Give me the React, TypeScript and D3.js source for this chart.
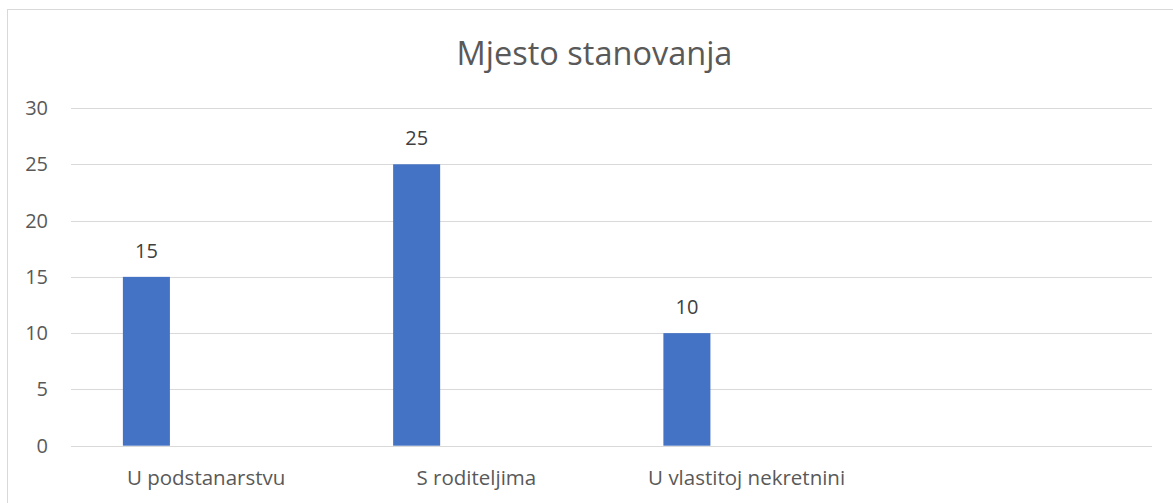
import React, { useEffect, useRef } from "react";
import * as d3 from "d3";

const categories = ["U podstanarstvu", "S roditeljima", "U vlastitoj nekretnini", ""];
const values = [15, 25, 10, null];
const yTicks = [0, 5, 10, 15, 20, 25, 30];
const title = "Mjesto stanovanja";

const W = 1173;
const H = 503;

const App: React.FC = () => {
  const svgRef = useRef<SVGSVGElement>(null);

  useEffect(() => {
    if (!svgRef.current) return;
    const svg = d3.select(svgRef.current);
    svg.selectAll("*").remove();

    const font = "'Open Sans', 'Noto Sans', sans-serif";
    const left = 71;
    const right = 1152;
    const top = 108;
    const bottom = 445.7;

    // chart frame
    svg
      .append("rect")
      .attr("x", 7.5)
      .attr("y", 9.5)
      .attr("width", 1300)
      .attr("height", 700)
      .attr("fill", "#fff")
      .attr("stroke", "#d9d9d9");

    const x = d3.scaleBand<string>().domain(categories.map((c, i) => i + "")).range([left, right]);
    const y = d3.scaleLinear().domain([0, 30]).range([bottom, top]);

    svg
      .append("text")
      .attr("x", 594.5)
      .attr("y", 65)
      .attr("text-anchor", "middle")
      .attr("font-family", font)
      .attr("font-size", 32.5)
      .attr("fill", "#595959")
      .text(title);

    svg
      .selectAll("line.grid")
      .data(yTicks)
      .enter()
      .append("line")
      .attr("class", "grid")
      .attr("x1", left)
      .attr("x2", right)
      .attr("y1", (d) => Math.round(y(d)) + 0.5)
      .attr("y2", (d) => Math.round(y(d)) + 0.5)
      .attr("stroke", "#d9d9d9")
      .attr("stroke-width", 1);

    svg
      .selectAll("text.tick")
      .data(yTicks)
      .enter()
      .append("text")
      .attr("class", "tick")
      .attr("x", 48)
      .attr("y", (d) => y(d))
      .attr("dy", "0.35em")
      .attr("text-anchor", "end")
      .attr("font-family", font)
      .attr("font-size", 20)
      .attr("fill", "#595959")
      .text((d) => d);

    const bw = x.bandwidth();
    const bars = values
      .map((v, i) => ({ v, i }))
      .filter((d) => d.v != null) as { v: number; i: number }[];

    svg
      .selectAll("rect.bar")
      .data(bars)
      .enter()
      .append("rect")
      .attr("class", "bar")
      .attr("x", (d) => x(d.i + "")! + bw * 0.192)
      .attr("width", bw * 0.174)
      .attr("y", (d) => y(d.v))
      .attr("height", (d) => y(0) - y(d.v))
      .attr("fill", "#4472c4");

    svg
      .selectAll("text.val")
      .data(bars)
      .enter()
      .append("text")
      .attr("class", "val")
      .attr("x", (d) => x(d.i + "")! + bw * 0.279)
      .attr("y", (d) => y(d.v) - 19)
      .attr("text-anchor", "middle")
      .attr("font-family", font)
      .attr("font-size", 20)
      .attr("fill", "#404040")
      .text((d) => d.v);

    svg
      .selectAll("text.cat")
      .data(categories)
      .enter()
      .append("text")
      .attr("class", "cat")
      .attr("x", (d, i) => x(i + "")! + bw / 2)
      .attr("y", 485)
      .attr("text-anchor", "middle")
      .attr("font-family", font)
      .attr("font-size", 20.5)
      .attr("fill", "#595959")
      .text((d) => d);
  }, []);

  return (
    <svg
      ref={svgRef}
      width={W}
      height={H}
      style={{ position: "absolute", left: 0, top: 0 }}
    ></svg>
  );
};

export default App;
